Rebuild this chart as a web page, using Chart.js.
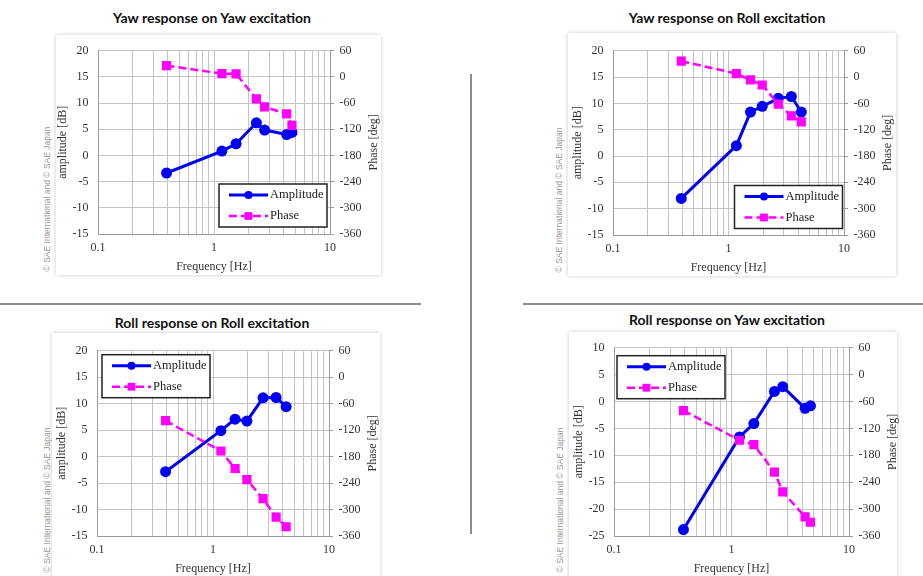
<!DOCTYPE html>
<html>
<head>
<meta charset="utf-8">
<script src="https://cdn.jsdelivr.net/npm/chart.js@4.4.1/dist/chart.umd.min.js"></script>
<style>
  body { margin: 0; width: 923px; height: 576px; overflow: hidden; background: #fff; position: relative; }
  .panel { position: absolute; background: #fff; box-shadow: 0 0 4px rgba(0,0,0,0.22); }
  .title { position: absolute; font: bold 14px Lato, sans-serif; color: #111; white-space: nowrap; line-height: 16px; transform: translateX(-50%); }
  .mark { position: absolute; font: 8.5px "Liberation Sans", sans-serif; color: #9a9a9a; white-space: nowrap; transform: translate(-50%, -50%) rotate(-90deg); }
  .rule { position: absolute; background: #8c8c8c; }
  canvas { position: absolute; }
</style>
</head>
<body>
<div class="rule" style="left:0;top:303px;width:421px;height:2px"></div>
<div class="rule" style="left:523px;top:303px;width:400px;height:2px"></div>
<div class="rule" style="left:470px;top:74px;width:2px;height:460px"></div>

<script>
// excitation frequencies [Hz]
const yawFreq = [0.39, 1.17, 1.55, 2.32, 2.73, 4.23, 4.7]
const rollFreq = [0.39, 1.17, 1.55, 1.96, 2.7, 3.5, 4.27]

// Yaw response on Yaw excitation
const yawYawAmp = [-3.35, 0.84, 2.23, 6.23, 4.84, 4.0, 4.4]
const yawYawPhase = [25.8, 7.6, 6.9, -50.6, -68.8, -84.8, -111]

// Yaw response on Roll excitation
const yawRollAmp = [-8.05, 1.96, 8.35, 9.44, 10.95, 11.3, 8.35]
const yawRollPhase = [36.1, 7.9, -6.6, -18.2, -61.7, -88.4, -102.2]

// Roll response on Roll excitation
const rollRollAmp = [-2.85, 4.9, 7.07, 6.7, 11.1, 11.16, 9.42]
const rollRollPhase = [-98.7, -167.3, -207, -232.2, -275.5, -317.3, -339]

// Roll response on Yaw excitation
const rollYawAmp = [-23.8, -6.6, -4.1, 1.87, 2.76, -1.27, -0.8]
const rollYawPhase = [-80.2, -146.4, -156.4, -217.6, -261.7, -317.2, -329.3]

// log axis grid and labels
const freqGrid = [0.1, 0.2, 0.3, 0.4, 0.5, 0.6, 0.7, 0.8, 0.9, 1, 2, 3, 4, 5, 6, 7, 8, 9, 10]
const freqLabels = [0.1, 1, 10]

const charts = [
  { title: "Yaw response on Yaw excitation", freq: yawFreq, amp: yawYawAmp, phase: yawYawPhase,
    ampMin: -15, ampMax: 20, plot: { l: 98, t: 42, r: 330, b: 234 },
    panel: { l: 56, t: 35, w: 325, h: 240 }, titleAt: [212, 10], markAt: [47, 199],
    legend: { corner: "br", dx: 3, dy: 7 } },
  { title: "Yaw response on Roll excitation", freq: rollFreq, amp: yawRollAmp, phase: yawRollPhase,
    ampMin: -15, ampMax: 20, plot: { l: 613, t: 42, r: 844, b: 235 },
    panel: { l: 568, t: 33, w: 328, h: 243 }, titleAt: [727, 10], markAt: [559, 200],
    legend: { corner: "br", dx: 1.5, dy: 6.5 } },
  { title: "Roll response on Roll excitation", freq: rollFreq, amp: rollRollAmp, phase: rollRollPhase,
    ampMin: -15, ampMax: 20, plot: { l: 97, t: 342, r: 329, b: 536 },
    panel: { l: 52, t: 333, w: 328, h: 260 }, titleAt: [212, 315], markAt: [47, 500],
    legend: { corner: "tl", dx: 5, dy: 4 } },
  { title: "Roll response on Yaw excitation", freq: yawFreq, amp: rollYawAmp, phase: rollYawPhase,
    ampMin: -25, ampMax: 10, plot: { l: 614, t: 339, r: 849, b: 536 },
    panel: { l: 569, t: 332, w: 328, h: 260 }, titleAt: [727, 312], markAt: [560, 500],
    legend: { corner: "tl", dx: 3, dy: 8 } }
]

const LEFT_W = 42, RIGHT_W = 51, BOTTOM_H = 40, TOP_PAD = 8

// legend drawn as a framed box inside the plot area,
// plus the right axis title turned the same way as the left one
const boxLegend = {
  id: "boxLegend",
  afterDatasetsDraw(chart, args, opts) {
    const a = chart.chartArea
    const ctx = chart.ctx
    const w = 108, h = 43
    const x = opts.corner === "br" ? a.right - opts.dx - w : a.left + opts.dx
    const y = opts.corner === "br" ? a.bottom - opts.dy - h : a.top + opts.dy
    ctx.save()
    ctx.fillStyle = "#fff"
    ctx.fillRect(x, y, w, h)
    ctx.strokeStyle = "#222"
    ctx.lineWidth = 1.5
    ctx.strokeRect(x, y, w, h)
    chart.data.datasets.forEach((ds, i) => {
      const ly = y + 11 + i * 21
      ctx.strokeStyle = ds.borderColor
      ctx.lineWidth = ds.borderWidth
      ctx.setLineDash(ds.borderDash || [])
      ctx.beginPath()
      ctx.moveTo(x + 10, ly)
      ctx.lineTo(x + 49, ly)
      ctx.stroke()
      ctx.setLineDash([])
      ctx.fillStyle = ds.borderColor
      Chart.helpers.drawPoint(ctx, { pointStyle: ds.pointStyle, radius: ds.pointStyle === "rect" ? 5.5 : 4, borderWidth: 0, rotation: 0 }, x + 29.5, ly)
      ctx.fillStyle = "#222"
      ctx.font = '12.5px "Liberation Serif"'
      ctx.textBaseline = "middle"
      ctx.fillText(ds.label, x + 51, ly)
    })
    ctx.restore()

    ctx.save()
    ctx.translate(a.right + 43.5, (a.top + a.bottom) / 2)
    ctx.rotate(-Math.PI / 2)
    ctx.fillStyle = "#333"
    ctx.font = '12px "Liberation Serif"'
    ctx.textAlign = "center"
    ctx.textBaseline = "middle"
    ctx.fillText("Phase [deg]", 0, 0)
    ctx.restore()
  }
}

const serif = { family: "Liberation Serif", size: 12 }

charts.forEach(c => {
  const panel = document.createElement("div")
  panel.className = "panel"
  panel.style.cssText = `left:${c.panel.l}px;top:${c.panel.t}px;width:${c.panel.w}px;height:${c.panel.h}px`
  document.body.appendChild(panel)

  const t = document.createElement("div")
  t.className = "title"
  t.textContent = c.title
  t.style.left = c.titleAt[0] + "px"
  t.style.top = c.titleAt[1] + "px"
  document.body.appendChild(t)

  const m = document.createElement("div")
  m.className = "mark"
  m.textContent = "© SAE International and © SAE Japan"
  m.style.left = c.markAt[0] + "px"
  m.style.top = c.markAt[1] + "px"
  document.body.appendChild(m)

  const canvas = document.createElement("canvas")
  const cw = c.plot.r - c.plot.l + LEFT_W + RIGHT_W
  const ch = c.plot.b - c.plot.t + TOP_PAD + BOTTOM_H
  canvas.width = cw
  canvas.height = ch
  canvas.style.left = (c.plot.l - LEFT_W) + "px"
  canvas.style.top = (c.plot.t - TOP_PAD) + "px"
  document.body.appendChild(canvas)

  new Chart(canvas, {
    type: "line",
    data: {
      datasets: [{
        label: "Amplitude",
        data: c.freq.map((f, i) => ({ x: f, y: c.amp[i] })),
        yAxisID: "y",
        borderColor: "#0000f5",
        backgroundColor: "#0000f5",
        borderWidth: 3,
        pointStyle: "circle",
        pointRadius: 5.5,
        pointBorderWidth: 0,
        order: 1
      },
      {
        label: "Phase",
        data: c.freq.map((f, i) => ({ x: f, y: c.phase[i] })),
        yAxisID: "y1",
        borderColor: "#ff00ff",
        backgroundColor: "#ff00ff",
        borderWidth: 2.5,
        borderDash: [8, 4],
        pointStyle: "rect",
        pointRadius: 6.5,
        pointBorderWidth: 0,
        order: 0
      }]
    },
    options: {
      responsive: false,
      animation: false,
      devicePixelRatio: 1,
      layout: { padding: { top: TOP_PAD, left: 0, right: 0, bottom: 0 } },
      plugins: {
        legend: { display: false },
        tooltip: { enabled: false },
        boxLegend: c.legend
      },
      scales: {
        x: {
          type: "logarithmic",
          min: 0.1,
          max: 10,
          afterBuildTicks: s => { s.ticks = freqGrid.map(v => ({ value: v })) },
          afterFit: s => { s.height = BOTTOM_H },
          ticks: {
            autoSkip: false, maxRotation: 0, padding: 6.5, color: "#333", font: serif,
            callback: v => freqLabels.includes(v) ? String(v) : ""
          },
          grid: { color: "#c4c4c4", drawTicks: false },
          border: { color: "#9a9a9a" },
          title: { display: true, text: "Frequency [Hz]", color: "#333", font: serif, padding: 0 }
        },
        y: {
          position: "left",
          min: c.ampMin,
          max: c.ampMax,
          afterFit: s => { s.width = LEFT_W },
          ticks: { stepSize: 5, padding: 9.5, color: "#333", font: serif },
          grid: { color: "#c4c4c4", drawTicks: false },
          border: { color: "#9a9a9a" },
          title: { display: true, text: "amplitude [dB]", color: "#333", font: serif, padding: 0 }
        },
        y1: {
          position: "right",
          min: -360,
          max: 60,
          afterFit: s => { s.width = RIGHT_W },
          ticks: { stepSize: 60, padding: 5.5, color: "#333", font: serif },
          grid: { drawOnChartArea: false, drawTicks: true, tickLength: 4, color: "#9a9a9a" },
          border: { color: "#9a9a9a" },
          title: { display: false }
        }
      }
    },
    plugins: [boxLegend]
  })
})
</script>
</body>
</html>
